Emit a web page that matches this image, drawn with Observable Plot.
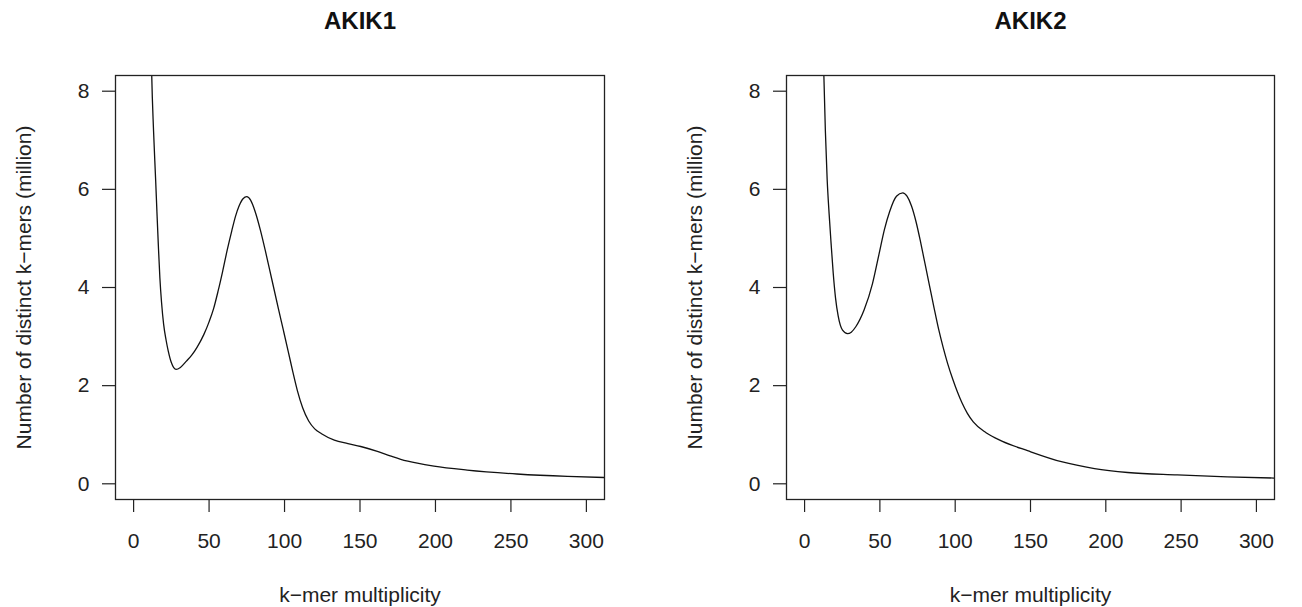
<!DOCTYPE html>
<html>
<head>
<meta charset="utf-8">
<script src="https://cdn.jsdelivr.net/npm/d3@7"></script>
<script src="https://cdn.jsdelivr.net/npm/@observablehq/plot@0.6"></script>
<style>
  html, body { margin: 0; padding: 0; background: #fff; }
  #wrap { position: relative; width: 1302px; height: 607px; overflow: hidden; }
  .panel { position: absolute; top: 0; }
</style>
</head>
<body>
<div id="wrap">
  <div class="panel" id="p1" style="left:0px"></div>
  <div class="panel" id="p2" style="left:671px"></div>
</div>
<script>
const titles = ["AKIK1", "AKIK2"];
const xLabel = "k\u2212mer multiplicity";
const yLabel = "Number of distinct k\u2212mers (million)";
const xTicks = [0, 50, 100, 150, 200, 250, 300];
const yTicks = [0, 2, 4, 6, 8];

// AKIK1 k-mer spectrum (multiplicity, million distinct k-mers)
const akik1X = [11.3, 12.0, 13.2, 14.6, 15.5, 16.4, 17.4, 18.5, 19.9, 21.5, 23.0, 25.0, 28.1, 31.0, 35.0, 38.5, 42.0, 46.5, 50.0, 53.0, 56.0, 59.0, 62.0, 65.0, 67.5, 70.0, 72.5, 75.0, 77.5, 80.5, 84.0, 87.2, 90.0, 92.7, 96.0, 99.3, 102.5, 105.5, 108.5, 112.0, 116.0, 120.0, 124.5, 133.0, 142.0, 150.5, 161.5, 170.0, 177.0, 188.0, 199.0, 221.0, 254.0, 287.5, 315.0];
const akik1Y = [9.5, 8.33, 7.2, 6.19, 5.5, 4.85, 4.2, 3.7, 3.25, 2.93, 2.70, 2.47, 2.33, 2.37, 2.50, 2.62, 2.78, 3.04, 3.30, 3.57, 3.93, 4.33, 4.76, 5.15, 5.45, 5.67, 5.81, 5.85, 5.78, 5.55, 5.17, 4.76, 4.38, 4.01, 3.56, 3.12, 2.69, 2.28, 1.90, 1.55, 1.28, 1.12, 1.02, 0.89, 0.82, 0.76, 0.66, 0.57, 0.50, 0.42, 0.36, 0.28, 0.20, 0.15, 0.125];

// AKIK2 k-mer spectrum
const akik2X = [11.9, 12.8, 13.8, 15.0, 16.3, 17.6, 19.0, 20.5, 22.3, 25.2, 28.5, 31.0, 34.0, 39.5, 45.1, 49.5, 53.0, 56.5, 61.0, 65.2, 68.0, 71.0, 74.0, 77.0, 80.0, 83.0, 86.0, 89.0, 92.0, 95.0, 98.4, 101.5, 104.5, 108.0, 112.0, 120.5, 131.0, 148.5, 170.5, 192.5, 214.5, 247.5, 280.5, 315.0];
const akik2Y = [9.5, 8.33, 7.2, 6.2, 5.5, 4.9, 4.3, 3.8, 3.42, 3.13, 3.06, 3.09, 3.20, 3.54, 4.08, 4.69, 5.18, 5.55, 5.86, 5.93, 5.86, 5.66, 5.34, 4.93, 4.48, 4.03, 3.58, 3.15, 2.78, 2.45, 2.13, 1.87, 1.65, 1.44, 1.26, 1.04, 0.87, 0.67, 0.45, 0.31, 0.23, 0.18, 0.14, 0.115];

const FONT = "'Liberation Sans', Arial, Helvetica, sans-serif";

function panel(title, xs, ys, width, marginRight) {
  const data = xs.map((x, i) => ({x, y: ys[i]}));
  return Plot.plot({
    width, height: 607,
    marginLeft: 115, marginRight, marginTop: 75, marginBottom: 108,
    style: {fontFamily: FONT, fontSize: "21px", color: "#222", background: "#fff", overflow: "visible"},
    x: {domain: [-12, 312]},
    y: {domain: [-0.32, 8.32]},
    marks: [
      Plot.line(data, {x: "x", y: "y", curve: "monotone-x", stroke: "#111", strokeWidth: 1.3, clip: true}),
      Plot.frame({stroke: "#222", strokeWidth: 1.3}),
      Plot.axisX({ticks: xTicks, tickSize: 13, tickPadding: 21, label: null, fontSize: 21, strokeWidth: 1.2, stroke: "#222", fill: "#222"}),
      Plot.axisY({ticks: yTicks, tickSize: 13, tickPadding: 13, label: null, fontSize: 21, strokeWidth: 1.2, stroke: "#222", fill: "#222"}),
      Plot.text([title], {text: d => d, frameAnchor: "top", dy: -54, fontSize: 24, fontWeight: "bold", fill: "#111", lineAnchor: "middle", textAnchor: "middle"}),
      Plot.text([xLabel], {text: d => d, frameAnchor: "bottom", dy: 96, fontSize: 21, fill: "#222", lineAnchor: "middle", textAnchor: "middle"}),
      Plot.text([yLabel], {text: d => d, frameAnchor: "left", dx: -91, rotate: -90, fontSize: 21, fill: "#222", lineAnchor: "middle", textAnchor: "middle"})
    ]
  });
}

document.getElementById("p1").appendChild(panel(titles[0], akik1X, akik1Y, 651, 47));
document.getElementById("p2").appendChild(panel(titles[1], akik2X, akik2Y, 631, 28));
</script>
</body>
</html>
